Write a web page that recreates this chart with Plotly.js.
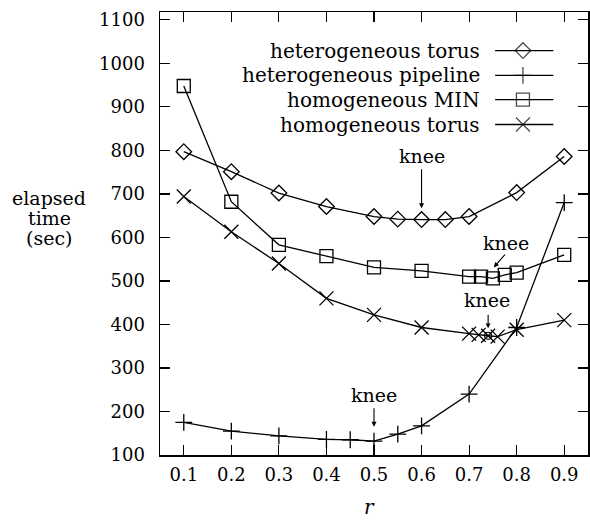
<!DOCTYPE html>
<html>
<head>
<meta charset="utf-8">
<script src="https://cdn.plot.ly/plotly-3.0.1.min.js"></script>
<style>html,body{margin:0;padding:0;background:#fff;}#chart{width:590px;height:520px;}</style>
</head>
<body>
<div id="chart"></div>
<script>
// ---- data ----
const seriesNames = ["heterogeneous torus", "heterogeneous pipeline", "homogeneous MIN", "homogeneous torus"];
const rHetTorus = [0.1, 0.2, 0.3, 0.4, 0.5, 0.55, 0.6, 0.65, 0.7, 0.8, 0.9];
const hetTorus  = [797, 751, 702, 671, 648, 642, 641, 641, 648, 703, 786];
const rHetPipe  = [0.1, 0.2, 0.3, 0.4, 0.45, 0.5, 0.55, 0.6, 0.7, 0.8, 0.9];
const hetPipe   = [175, 155, 144, 136, 135, 132, 148, 167, 240, 393, 680];
const rHomMIN   = [0.1, 0.2, 0.3, 0.4, 0.5, 0.6, 0.7, 0.725, 0.75, 0.775, 0.8, 0.9];
const homMIN    = [948, 682, 583, 557, 531, 523, 510, 510, 506, 514, 519, 560];
const rHomTorus = [0.1, 0.2, 0.3, 0.4, 0.5, 0.6, 0.7, 0.72, 0.74, 0.76, 0.8, 0.9];
const homTorus  = [694, 613, 540, 460, 422, 393, 379, 376, 374, 372, 388, 410];
const kneeR = [0.74];
const kneeT = [374];
const xTicks = [0.1, 0.2, 0.3, 0.4, 0.5, 0.6, 0.7, 0.8, 0.9];
const yTicks = [100, 200, 300, 400, 500, 600, 700, 800, 900, 1000, 1100];

// ---- styles ----
const FONT = "'DejaVu Serif', 'Liberation Serif', serif";
const symbols = ["diamond-open", "cross-thin-open", "square-open", "x-thin-open"];
const sizes = [12, 12, 13, 14];
const LW = 1.3;

function series(x, y, i) {
  return {
    x: x, y: y, type: "scatter", mode: "lines+markers", name: seriesNames[i],
    showlegend: false, cliponaxis: false,
    line: {color: "#000", width: LW},
    marker: {symbol: symbols[i], size: sizes[i], color: "#000", line: {color: "#000", width: LW}}
  };
}

const traces = [
  series(rHetTorus, hetTorus, 0),
  series(rHetPipe, hetPipe, 1),
  series(rHomMIN, homMIN, 2),
  series(rHomTorus, homTorus, 3),
  {x: kneeR, y: kneeT, type: "scatter", mode: "markers", showlegend: false, cliponaxis: false,
   marker: {symbol: "circle-open", size: 7, color: "#000", line: {color: "#000", width: 1.2}}}
];

// custom legend (text right, key on the right like the original)
const legRowsY = [0.913, 0.857, 0.802, 0.746];
const legKeyX0 = 0.783, legKeyX1 = 0.919, legKeyXm = 0.848, legTextX = 0.752;
traces.push({
  x: legRowsY.map(() => legKeyXm), y: legRowsY, xaxis: "x2", yaxis: "y2",
  type: "scatter", mode: "markers", showlegend: false, hoverinfo: "skip", cliponaxis: false,
  marker: {symbol: symbols, size: sizes, color: "#000", line: {color: "#000", width: LW}}
});

const shapes = legRowsY.map(y => ({
  type: "line", xref: "paper", yref: "paper", x0: legKeyX0, x1: legKeyX1, y0: y, y1: y,
  line: {color: "#000", width: LW}
}));

const annotations = [];
seriesNames.forEach((n, i) => annotations.push({
  xref: "paper", yref: "paper", x: legTextX, y: legRowsY[i], xanchor: "right", yanchor: "middle",
  text: n, showarrow: false, font: {family: FONT, size: 20, color: "#000"}
}));

// knee labels and arrows
const knees = [
  {tx: 0.6,   ty: 786, x0: 0.6,   y0: 760, x1: 0.6,   y1: 667},
  {tx: 0.778, ty: 587, x0: 0.778, y0: 564, x1: 0.752, y1: 531},
  {tx: 0.737, ty: 456, x0: 0.74,  y0: 426, x1: 0.74,  y1: 391},
  {tx: 0.5,   ty: 238, x0: 0.5,   y0: 211, x1: 0.5,   y1: 165}
];
knees.forEach(k => {
  annotations.push({x: k.tx, y: k.ty, xref: "x", yref: "y", text: "knee", showarrow: false,
    xanchor: "center", yanchor: "middle", font: {family: FONT, size: 19, color: "#000"}});
  annotations.push({x: k.x1, y: k.y1, xref: "x", yref: "y", ax: k.x0, ay: k.y0, axref: "x", ayref: "y",
    text: "", showarrow: true, arrowhead: 2, arrowsize: 0.9, arrowwidth: 1.1, arrowcolor: "#000", standoff: 0, startstandoff: 0});
});

// axis titles
["elapsed", "time", "(sec)"].forEach((t, i) => annotations.push({
  xref: "paper", yref: "paper", x: -0.259, y: [0.580, 0.535, 0.490][i], xanchor: "center", yanchor: "middle",
  text: t, showarrow: false, font: {family: FONT, size: 19, color: "#000"}
}));
annotations.push({xref: "paper", yref: "paper", x: 0.49, y: -0.117, xanchor: "center", yanchor: "middle",
  text: "<i>r</i>", showarrow: false, font: {family: FONT, size: 20, color: "#000"}});

const axisCommon = {
  showline: true, linecolor: "#000", linewidth: 1.5, mirror: "ticks",
  ticks: "inside", ticklen: 10, tickwidth: 1.2, tickcolor: "#000",
  showgrid: false, zeroline: false, fixedrange: true,
  tickfont: {family: FONT, size: 18, color: "#000"}
};

const layout = {
  width: 590, height: 520,
  margin: {l: 160, r: 2, t: 12, b: 65, pad: 0},
  paper_bgcolor: "#fff", plot_bgcolor: "#fff",
  showlegend: false,
  font: {family: FONT, color: "#000"},
  xaxis: Object.assign({}, axisCommon, {range: [0.05, 0.95], tickvals: xTicks, ticktext: xTicks.map(v => v.toFixed(1)), ticklabelstandoff: 3}),
  yaxis: Object.assign({}, axisCommon, {range: [100, 1118], tickvals: yTicks, ticktext: yTicks.map(String), ticklabelstandoff: 10}),
  xaxis2: {overlaying: "x", range: [0, 1], visible: false, fixedrange: true},
  yaxis2: {overlaying: "y", range: [0, 1], visible: false, fixedrange: true},
  shapes: shapes,
  annotations: annotations
};

Plotly.newPlot("chart", traces, layout, {staticPlot: true, displayModeBar: false});
</script>
</body>
</html>
